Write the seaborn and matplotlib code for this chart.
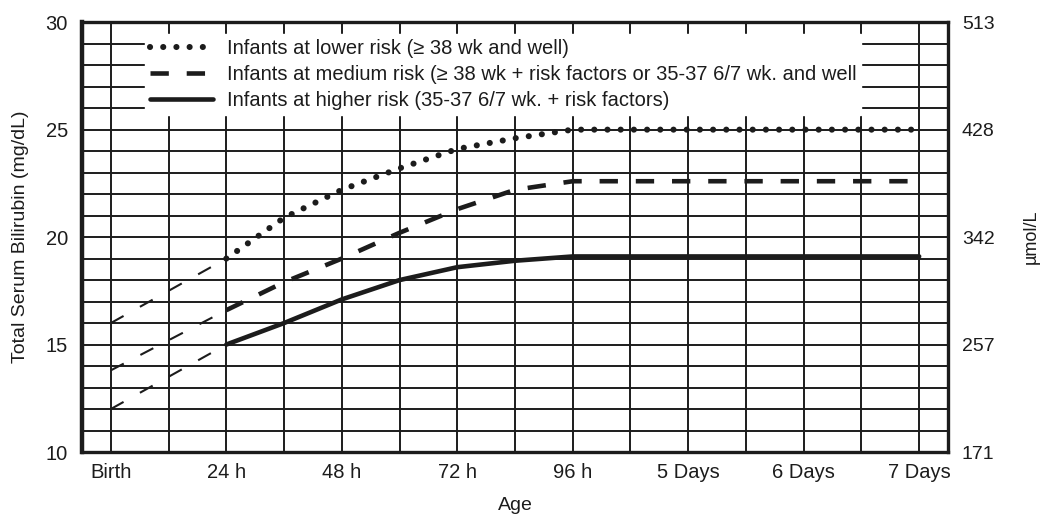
import numpy as np
import pandas as pd
import seaborn as sns
import matplotlib.pyplot as plt

plt.switch_backend('Agg')

# Values (hours of age -> mg/dL)
hours = [24, 36, 48, 60, 72, 84, 96, 120, 144, 168]
lower_risk = [19.0, 20.9, 22.2, 23.2, 24.1, 24.6, 25.0, 25.0, 25.0, 25.0]
medium_risk = [16.6, 17.9, 19.0, 20.2, 21.3, 22.2, 22.6, 22.6, 22.6, 22.6]
higher_risk = [15.0, 16.0, 17.1, 18.0, 18.6, 18.9, 19.1, 19.1, 19.1, 19.1]

# thin dashed extensions from birth to 24 h
early_hours = [0, 24]
lower_early = [16.0, 19.0]
medium_early = [13.8, 16.6]
higher_early = [12.0, 15.0]

labels = ['Infants at lower risk (\u2265 38 wk and well)',
          'Infants at medium risk (\u2265 38 wk + risk factors or 35-37 6/7 wk. and well',
          'Infants at higher risk (35-37 6/7 wk. + risk factors)']

tick_hours = [0, 24, 48, 72, 96, 120, 144, 168]
tick_labels = ['Birth', '24 h', '48 h', '72 h', '96 h', '5 Days', '6 Days', '7 Days']
left_ticks = [10, 15, 20, 25, 30]
right_labels = ['171', '257', '342', '428', '513']

sns.set_style('white')
plt.rcParams['font.family'] = ['Liberation Sans', 'DejaVu Sans']
ink = '#1c1c1c'

fig = plt.figure(figsize=(10.48, 5.16), dpi=100)
ax = fig.add_axes([0.0782, 0.124, 0.8264, 0.833])

# early thin dashed segments
for ys in [lower_early, medium_early, higher_early]:
    sns.lineplot(x=early_hours, y=ys, ax=ax, color=ink, linewidth=1.5,
                 linestyle=(0, (7, 9)), zorder=4)

sns.lineplot(x=hours, y=lower_risk, ax=ax, color=ink, linewidth=4.4,
             linestyle=(0, (0.01, 2.15)), dash_capstyle='round',
             label=labels[0], zorder=4)
sns.lineplot(x=hours, y=medium_risk, ax=ax, color=ink, linewidth=3.3,
             linestyle=(0, (4.0, 3.9)), label=labels[1], zorder=4)
sns.lineplot(x=hours, y=higher_risk, ax=ax, color=ink, linewidth=3.3,
             label=labels[2], zorder=4)

ax.set_xlim(-6, 174)
ax.set_ylim(10, 30)
ax.set_xticks(tick_hours)
ax.set_xticklabels(tick_labels)
ax.set_xticks(np.arange(12, 168, 24), minor=True)
ax.set_yticks(left_ticks)
ax.set_yticks(np.arange(10, 31, 1), minor=True)
ax.grid(True, which='both', color=ink, linewidth=1.4)
ax.set_axisbelow(True)
ax.tick_params(axis='both', which='both', length=0, colors=ink)
ax.tick_params(axis='x', labelsize=14.5, pad=8)
ax.tick_params(axis='y', labelsize=14.5, pad=10)

for side in ['top', 'bottom', 'left', 'right']:
    ax.spines[side].set_visible(True)
    ax.spines[side].set_color(ink)
    ax.spines[side].set_linewidth(2.4)
ax.spines['left'].set_linewidth(3.2)

ax.set_xlabel('Age', fontsize=14, color=ink, labelpad=11)
ax.set_ylabel('Total Serum Bilirubin (mg/dL)', fontsize=14, color=ink, labelpad=12)

# right axis in micromol/L
ax2 = ax.twinx()
ax2.set_ylim(10, 30)
ax2.set_yticks(left_ticks)
ax2.set_yticklabels(right_labels)
ax2.tick_params(axis='y', length=0, labelsize=14, pad=10, colors=ink)
ax2.set_ylabel('\u00b5mol/L', fontsize=13, color=ink, rotation=90, labelpad=20)
for s in ax2.spines.values():
    s.set_visible(False)

ax.get_legend().remove()
handles = ax.get_lines()[3:6]
leg = ax2.legend(handles, labels, loc='upper left', bbox_to_anchor=(0.073, 0.972),
                 fontsize=14.5, handlelength=3.1, handletextpad=0.7,
                 labelspacing=0.35, borderpad=0.25, borderaxespad=0,
                 frameon=True, facecolor='white', edgecolor='white',
                 framealpha=1, fancybox=False)
for t in leg.get_texts():
    t.set_color(ink)

fig.savefig('out.png', dpi=100, facecolor='white')
